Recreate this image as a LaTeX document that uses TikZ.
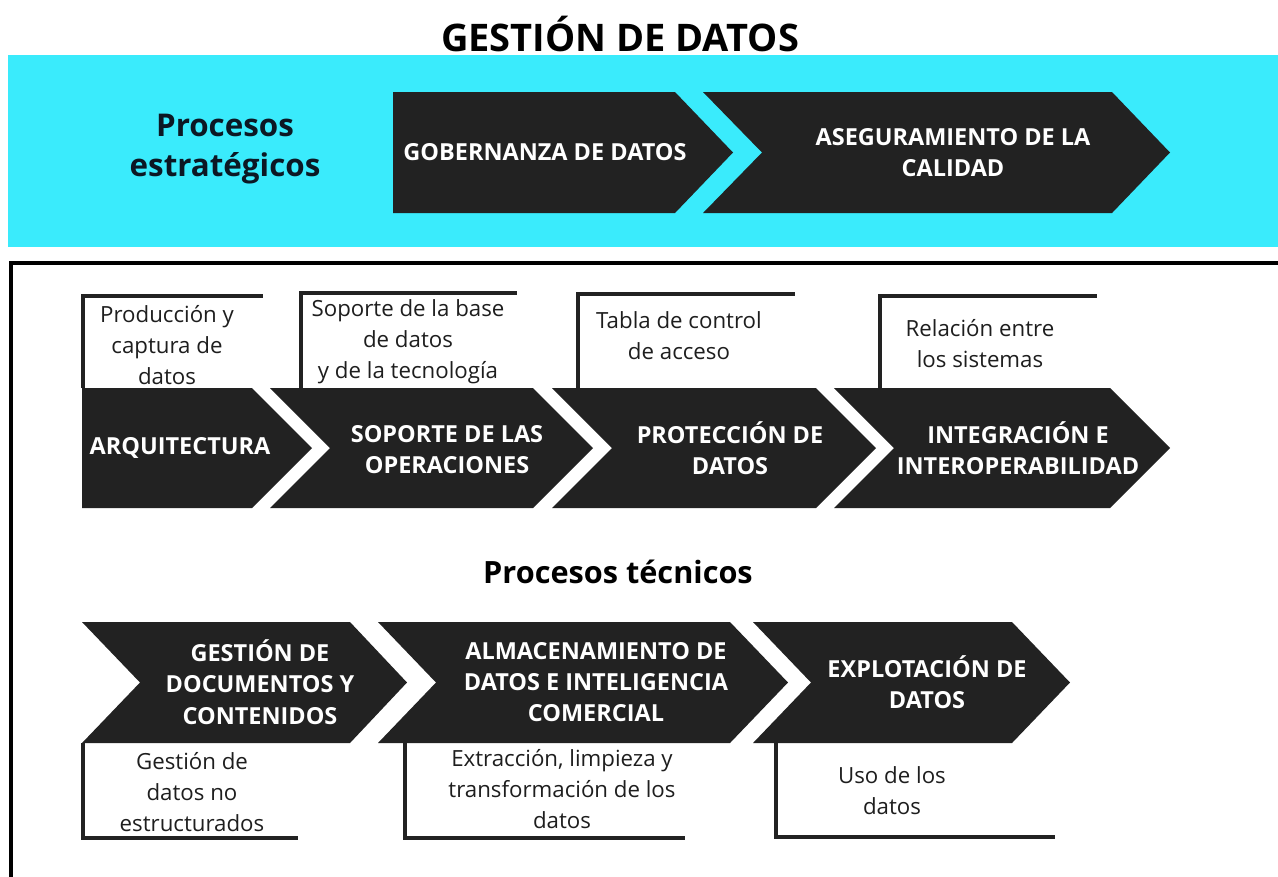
\documentclass[tikz,border=0pt]{standalone}
\usepackage{fontspec}
\setmainfont{Open Sans}
\definecolor{bandcyan}{RGB}{58,235,252}
\definecolor{chevdark}{RGB}{34,34,34}
\definecolor{navytext}{RGB}{12,24,36}
\definecolor{calltext}{RGB}{30,30,30}
\begin{document}
\begin{tikzpicture}[x=0.75pt,y=-0.75pt,
  chev/.style={fill=chevdark,draw=none},
  chevtext/.style={text=white,align=center,font=\fontsize{17.6}{23.5}\selectfont\bfseries,inner sep=0pt},
  calltext/.style={text=calltext,align=center,font=\fontsize{16.7}{23.2}\selectfont,inner sep=0pt},
  callline/.style={draw=chevdark,line width=3pt},
  frameline/.style={draw=black,line width=3.5pt}]
\useasboundingbox (0,0) rectangle (1278,876);
\fill[white] (0,0) rectangle (1278,876);
% title
\node[font=\fontsize{28.5}{34}\selectfont\bfseries,text=black,inner sep=0pt] (title) at (620,34) {GESTIÓN DE DATOS};
% cyan band
\fill[bandcyan] (8,55) rectangle (1278,247);
\node[font=\fontsize{23.5}{30}\selectfont\bfseries,text=navytext,align=center,inner sep=0pt] (estr) at (225,149) {Procesos\\estratégicos};
\path[chev] (393,92) -- (675,92) -- (733,152.5) -- (675,213) -- (393,213) -- cycle;
\path[chev] (703,92) -- (1112,92) -- (1170,152.5) -- (1112,213) -- (703,213) -- (762,152.5) -- cycle;
\node[chevtext] (gob) at (545,152) {GOBERNANZA DE DATOS};
\node[chevtext] (aseg) at (953,152.5) {ASEGURAMIENTO DE LA\\CALIDAD};
% frame
\draw[frameline] (11,878) -- (11,263) -- (1280,263);
% top callouts
\draw[callline] (83,388) -- (83,296) -- (263,296);
\draw[callline] (301,388) -- (301,293) -- (517,293);
\draw[callline] (578,388) -- (578,294) -- (795,294);
\draw[callline] (880,388) -- (880,296) -- (1097,296);
% middle chevrons
\path[chev] (82,388) -- (252,388) -- (312,448) -- (252,508) -- (82,508) -- cycle;
\path[chev] (270,388) -- (533,388) -- (593,448) -- (533,508) -- (270,508) -- (330,448) -- cycle;
\path[chev] (552,388) -- (816,388) -- (876,448) -- (816,508) -- (552,508) -- (612,448) -- cycle;
\path[chev] (834,388) -- (1110,388) -- (1170,448) -- (1110,508) -- (834,508) -- (894,448) -- cycle;
\node[chevtext] (arq) at (180,448) {ARQUITECTURA};
\node[chevtext] (sop) at (447,449.5) {SOPORTE DE LAS\\OPERACIONES};
\node[chevtext] (pro) at (730,448.5) {PROTECCIÓN DE\\DATOS};
\node[chevtext] (int) at (1018,448.5) {INTEGRACIÓN E\\INTEROPERABILIDAD};
\node[calltext] (c1) at (167,345) {Producción y\\captura de\\datos};
\node[calltext] (c2) at (408,342) {Soporte de la base\\de datos\\y de la tecnología};
\node[calltext] (c3) at (679,336) {Tabla de control\\de acceso};
\node[calltext] (c4) at (980,344) {Relación entre\\los sistemas};
% technical title
\node[font=\fontsize{23}{28}\selectfont\bfseries,text=black,inner sep=0pt] (tec) at (618,572) {Procesos técnicos};
% bottom callouts
\draw[callline] (83,743) -- (83,838) -- (298,838);
\draw[callline] (405,743) -- (405,838) -- (685,838);
\draw[callline] (776,743) -- (776,837) -- (1055,837);
% bottom chevrons
\path[chev] (82,622) -- (350,622) -- (407,682.5) -- (350,743) -- (82,743) -- (140,682.5) -- cycle;
\path[chev] (378,622) -- (730,622) -- (788,682.5) -- (730,743) -- (378,743) -- (436,682.5) -- cycle;
\path[chev] (753,622) -- (1012,622) -- (1070,682.5) -- (1012,743) -- (753,743) -- (811,682.5) -- cycle;
\node[chevtext] (ges) at (260,682) {GESTIÓN DE\\DOCUMENTOS Y\\CONTENIDOS};
\node[chevtext] (alm) at (596,682) {ALMACENAMIENTO DE\\DATOS E INTELIGENCIA\\COMERCIAL};
\node[chevtext] (exp) at (927,682) {EXPLOTACIÓN DE\\DATOS};
\node[calltext] (c5) at (192,792) {Gestión de\\datos no\\estructurados};
\node[calltext] (c6) at (562,789) {Extracción, limpieza y\\transformación de los\\datos};
\node[calltext] (c7) at (892,791) {Uso de los\\datos};
\end{tikzpicture}
\end{document}
